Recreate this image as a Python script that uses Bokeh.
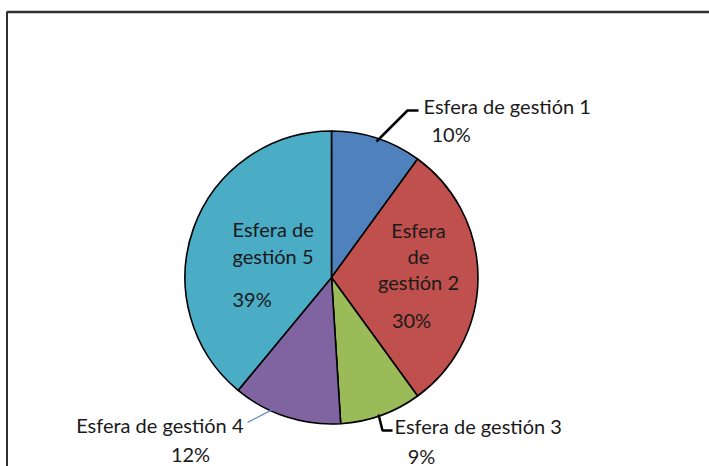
import math
from bokeh.plotting import figure
from bokeh.models import Range1d, ColumnDataSource
from bokeh.core.properties import value
from bokeh.embed import file_html
from bokeh.resources import INLINE

# ---- data ----
categories = ["Esfera de gestión 1", "Esfera de gestión 2", "Esfera de gestión 3",
              "Esfera de gestión 4", "Esfera de gestión 5"]
values = [10, 30, 9, 12, 39]
colors = ["#4F81BD", "#C0504D", "#9BBB59", "#8064A2", "#4BACC6"]

W, H = 709, 466
OFF = 0  # figure origin in picture px


def X(ix):
    return ix - OFF


def Y(iy):
    return H - (iy - OFF)


p = figure(width=W, height=H, output_backend="svg", toolbar_location=None,
           x_range=Range1d(0, W), y_range=Range1d(0, H), min_border=0)
p.axis.visible = False
p.grid.visible = False
p.outline_line_color = None
p.background_fill_color = "white"
p.border_fill_color = "white"

# chart frame (top and left edges visible in the crop)
p.line([X(6.5), X(720)], [Y(11.5), Y(11.5)], line_color="#303030", line_width=2.5)
p.line([X(6.5), X(6.5)], [Y(11), Y(480)], line_color="#303030", line_width=2)

# pie
total = sum(values)
starts, ends = [], []
cum = 0.0
for v in values:
    starts.append(math.pi / 2 - 2 * math.pi * cum / total)
    cum += v
    ends.append(math.pi / 2 - 2 * math.pi * cum / total)
src = ColumnDataSource(dict(start=starts, end=ends, color=colors))
cx, cy, r = X(331), Y(277), 146.5
p.wedge(x=cx, y=cy, radius=r, start_angle="start", end_angle="end",
        direction="clock", fill_color="color", line_color="black",
        line_width=1.6, source=src)

pct = [f"{v}%" for v in values]
font = value("Lato")
fs = "20px"


def txt(ix, iy, s, align="left"):
    p.text(x=[X(ix)], y=[Y(iy)], text=[s], text_font=font, text_font_size=fs,
           text_color="#1a1a1a", text_align=align, text_baseline="middle")


# leader lines
p.line([X(376), X(407), X(418)], [Y(141), Y(110), Y(110)], line_color="black", line_width=2.5)
p.line([X(378), X(382), X(392)], [Y(414), Y(430), Y(430)], line_color="black", line_width=2.5)
p.line([X(247), X(274)], [Y(422), Y(408)], line_color="#4F81BD", line_width=1.2)

# label 1
txt(423, 105, categories[0])
txt(431, 133, pct[0])
# label 2 (inside)
w2 = categories[1].split(" ")
txt(418, 229, w2[0], "center")
txt(418, 255, w2[1], "center")
txt(418, 281, " ".join(w2[2:]), "center")
txt(411, 319, pct[1], "center")
# label 3
txt(394, 425, categories[2])
txt(421, 455, pct[2], "center")
# label 4
txt(243, 424, categories[3], "right")
txt(190, 453, pct[3], "center")
# label 5 (inside)
w5 = categories[4].split(" ")
txt(232, 228, " ".join(w5[:2]))
txt(232, 255, " ".join(w5[2:]))
txt(232, 298, pct[4])

open("out.html", "w").write(file_html(p, INLINE))
